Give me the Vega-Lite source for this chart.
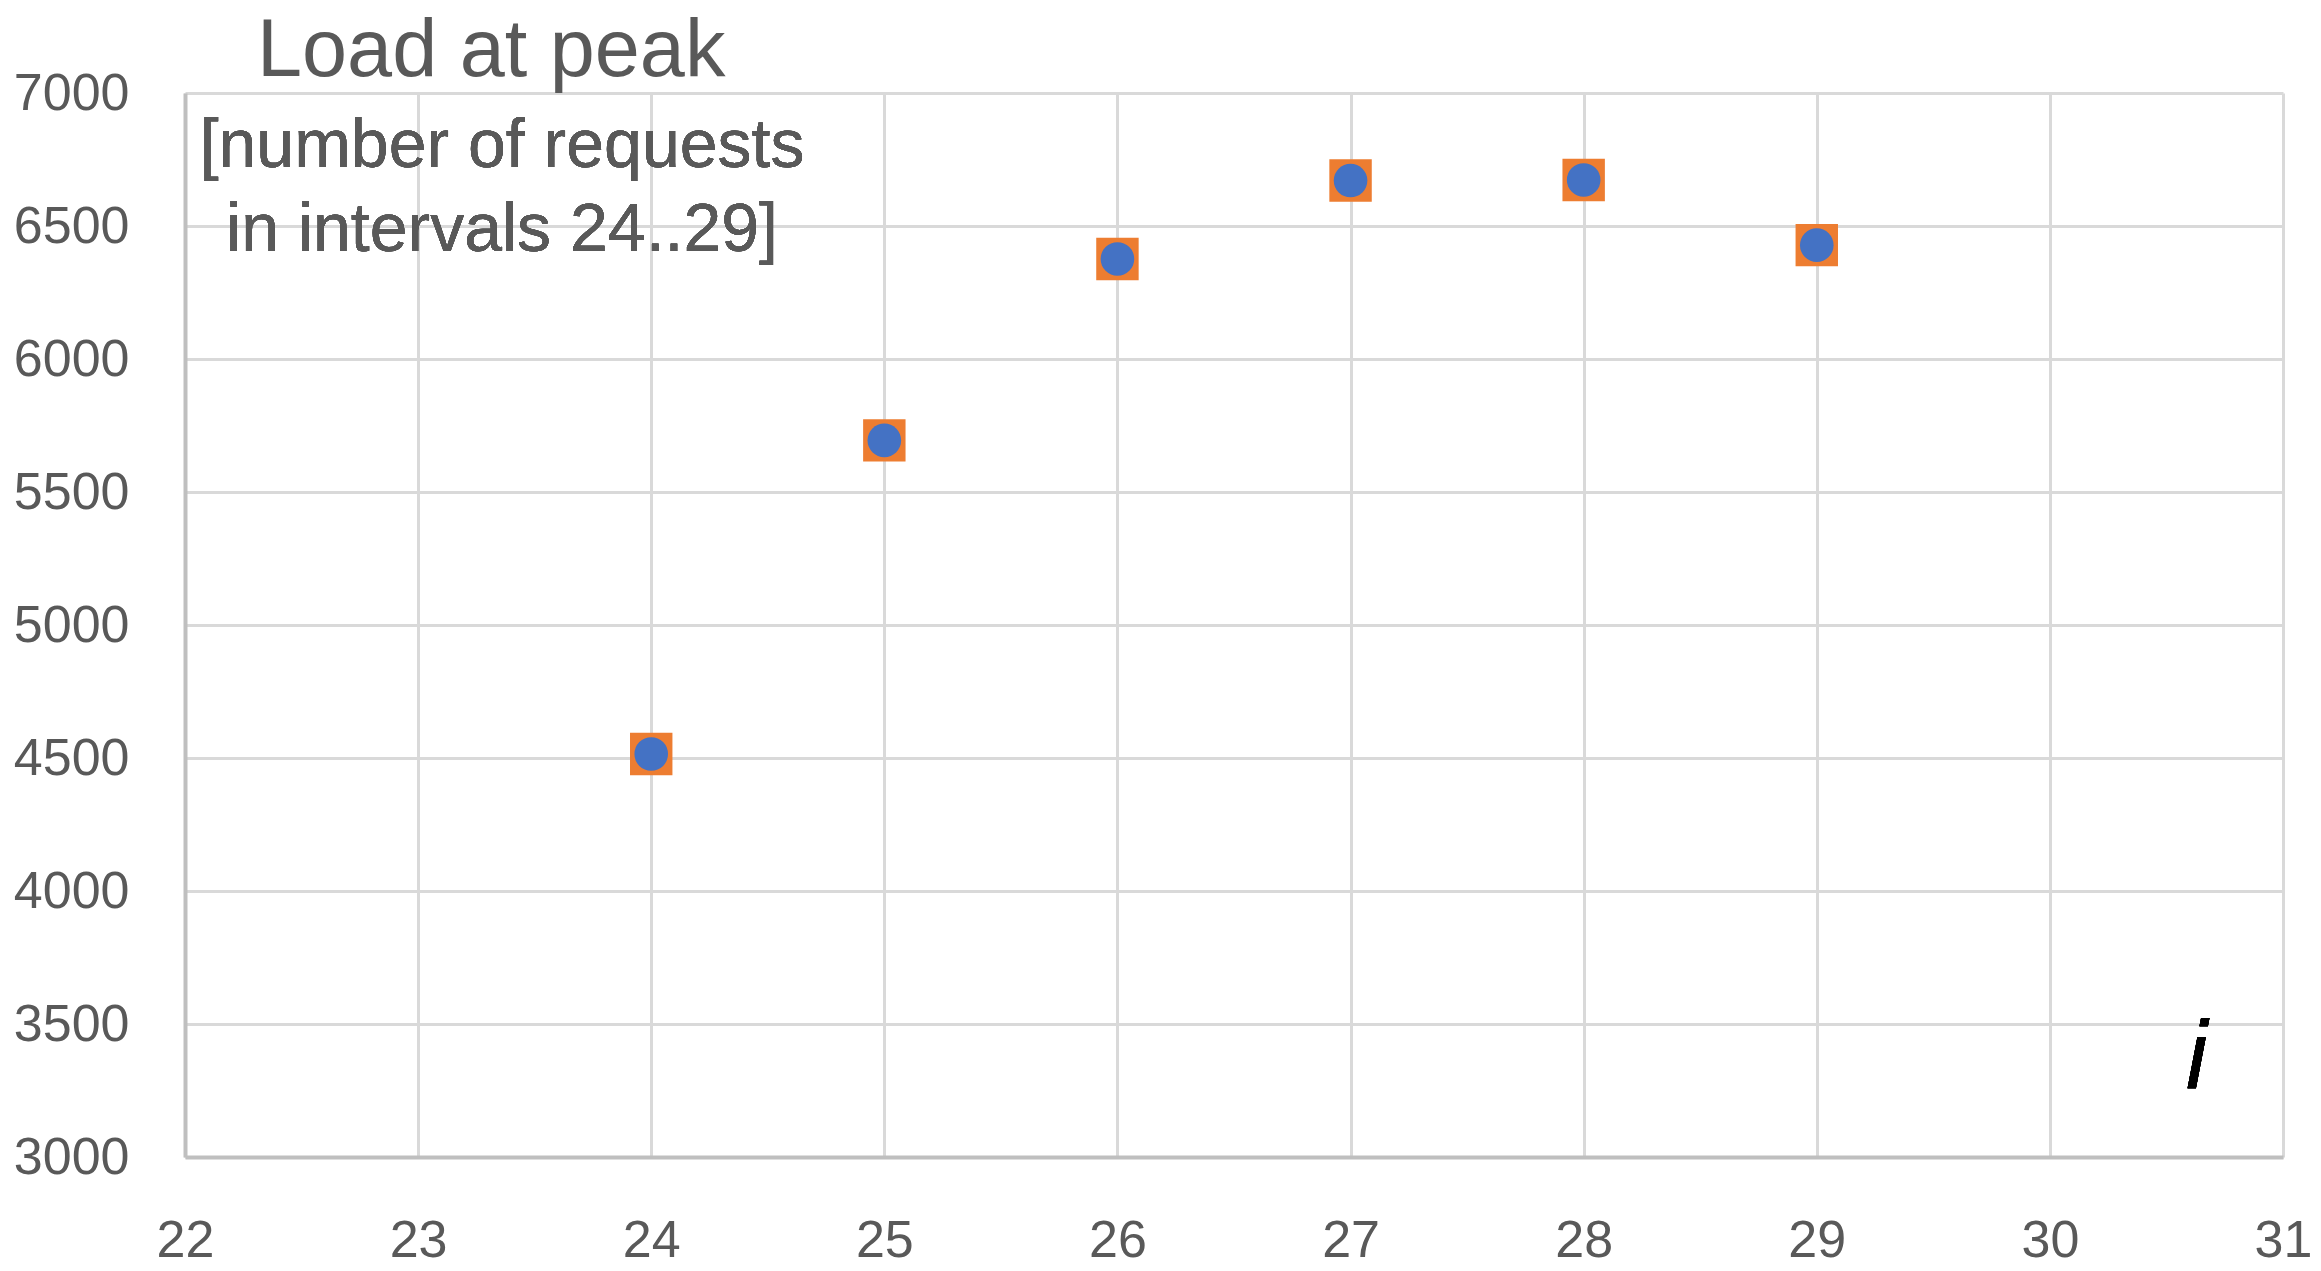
{
  "$schema": "https://vega.github.io/schema/vega-lite/v6.json",
  "width": 2098,
  "height": 1064,
  "autosize": {"type": "none"},
  "padding": {"left": 185, "top": 93, "right": 38, "bottom": 114},
  "background": "white",
  "title": {
    "text": "Load at peak",
    "anchor": "start",
    "frame": "group",
    "dx": 72,
    "offset": -90,
    "baseline": "alphabetic",
    "fontSize": 81,
    "font": "Liberation Sans",
    "fontWeight": "normal",
    "color": "#595959"
  },
  "data": {
    "values": [
      {"i": 24, "load": 4515},
      {"i": 25, "load": 5694},
      {"i": 26, "load": 6376},
      {"i": 27, "load": 6671},
      {"i": 28, "load": 6673},
      {"i": 29, "load": 6428}
    ]
  },
  "encoding": {
    "x": {
      "field": "i",
      "type": "quantitative",
      "scale": {"domain": [22, 31], "nice": false, "zero": false},
      "axis": {
        "title": null,
        "values": [22, 23, 24, 25, 26, 27, 28, 29, 30, 31],
        "format": "d",
        "labelPadding": 58
      }
    },
    "y": {
      "field": "load",
      "type": "quantitative",
      "scale": {"domain": [3000, 7000], "nice": false, "zero": false},
      "axis": {
        "title": null,
        "values": [3000, 3500, 4000, 4500, 5000, 5500, 6000, 6500, 7000],
        "format": "d",
        "labelPadding": 56
      }
    }
  },
  "layer": [
    {
      "mark": {"type": "point", "shape": "square", "filled": true, "color": "#ED7D31", "size": 1800, "opacity": 1}
    },
    {
      "mark": {"type": "circle", "color": "#4472C4", "size": 1130, "opacity": 1}
    },
    {
      "mark": {
        "type": "text",
        "text": ["[number of requests", "in intervals 24..29]"],
        "fontSize": 68,
        "lineHeight": 84,
        "align": "center",
        "baseline": "alphabetic",
        "color": "#595959",
        "font": "Liberation Sans"
      },
      "encoding": {
        "x": {"datum": 23.36, "type": "quantitative"},
        "y": {"datum": 6722, "type": "quantitative"}
      }
    },
    {
      "mark": {
        "type": "text",
        "text": "i",
        "fontSize": 96,
        "fontStyle": "italic",
        "align": "center",
        "baseline": "alphabetic",
        "color": "black",
        "font": "Liberation Sans"
      },
      "encoding": {
        "x": {"datum": 30.63, "type": "quantitative"},
        "y": {"datum": 3261, "type": "quantitative"}
      }
    }
  ],
  "config": {
    "view": {"stroke": null},
    "axis": {
      "grid": true,
      "gridColor": "#D9D9D9",
      "gridWidth": 3,
      "domainColor": "#BFBFBF",
      "domainWidth": 4,
      "ticks": false,
      "labelFontSize": 52,
      "labelFont": "Liberation Sans",
      "labelColor": "#595959",
      "labelFlush": false,
      "labelOverlap": false
    }
  }
}
